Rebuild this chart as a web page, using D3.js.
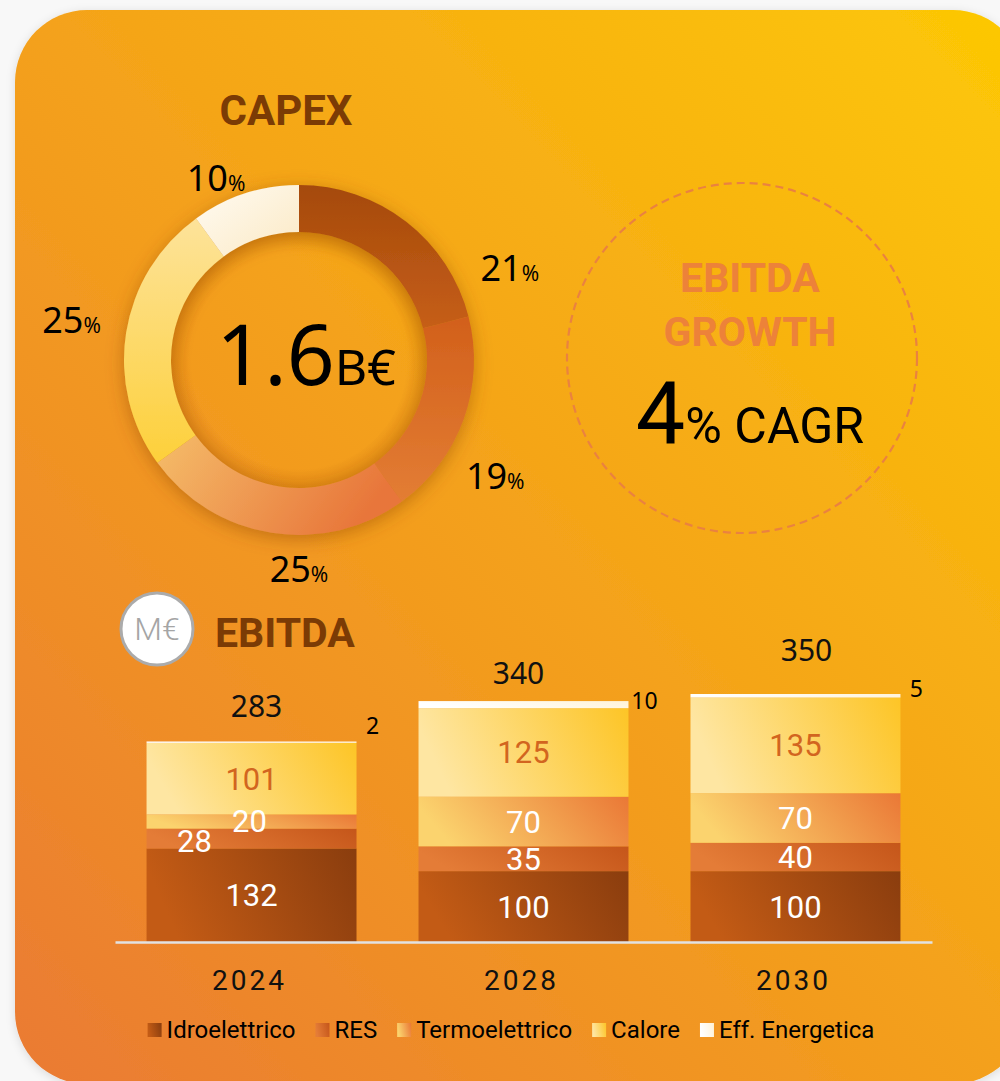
<!DOCTYPE html>
<html><head><meta charset="utf-8">
<script src="https://cdn.jsdelivr.net/npm/d3@7"></script>
<style>body{margin:0;background:#f8f8f8;} svg{display:block}</style>
</head><body>
<svg id="c" width="1000" height="1081"></svg>
<script>
// ---------- DATA ----------
const capexCategories = ["Idroelettrico", "RES", "Termoelettrico", "Calore", "Eff. Energetica"];
const capexShares = [21, 19, 25, 25, 10];
const capexTotalValue = "1.6";
const capexTotalUnit = "B€";
const years = ["2024", "2028", "2030"];
const seriesNames = ["Idroelettrico", "RES", "Termoelettrico", "Calore", "Eff. Energetica"];
const idroelettrico = [132, 100, 100];
const res = [28, 35, 40];
const termoelettrico = [20, 70, 70];
const calore = [101, 125, 135];
const effEnergetica = [2, 10, 5];
const totals = [283, 340, 350];
const cagrValue = "4";
const cagrUnit = "% CAGR";

// ---------- SETUP ----------
const svg = d3.select("#c");
const defs = svg.append("defs");

function lin(id, stops, x1, y1, x2, y2) {
  const g = defs.append("linearGradient").attr("id", id)
    .attr("x1", x1).attr("y1", y1).attr("x2", x2).attr("y2", y2);
  stops.forEach(s => g.append("stop").attr("offset", s[0]).attr("stop-color", s[1]));
}
lin("bg", [[0, "#ea7a33"], [0.5, "#f4a11b"], [1, "#fdc904"]], 0, 1, 1, 0);

// donut gradients
const donutGrads = [
  [[0, "#a54a0c"], [1, "#c65e17"]],
  [[0, "#d2601b"], [1, "#e37d34"]],
  [[0, "#f5bd6a"], [1, "#e8763a"]],
  [[0, "#fde39a"], [1, "#fdd03a"]],
  [[0, "#fffbf3"], [1, "#fbe9c4"]]
];
const donutDir = [[0,0,0,1],[0,0,0,1],[0,0,1,0.3],[0,0,0,1],[0,0,1,1]];
donutGrads.forEach((s, i) => lin("dg" + i, s, ...donutDir[i]));

// bar gradients
const barGrads = [
  [[0, "#c35b15"], [1, "#8a3d0e"]],
  [[0, "#e47c37"], [1, "#c5561a"]],
  [[0, "#fbd36e"], [1, "#ea7836"]],
  [[0, "#fee6a2"], [1, "#fdc526"]],
  [[0, "#ffffff"], [1, "#fff3d8"]]
];
barGrads.forEach((s, i) => lin("bg" + i, s, 0, 0.2, 1, 0));

const shadow = defs.append("filter").attr("id", "sh").attr("x", "-30%").attr("y", "-30%").attr("width", "160%").attr("height", "160%");
shadow.append("feDropShadow").attr("dx", 0).attr("dy", 4).attr("stdDeviation", 9)
  .attr("flood-color", "#8a4300").attr("flood-opacity", 0.45);
const cardSh = defs.append("filter").attr("id", "csh").attr("x", "-5%").attr("y", "-5%").attr("width", "110%").attr("height", "110%");
cardSh.append("feDropShadow").attr("dx", 0).attr("dy", 2).attr("stdDeviation", 5)
  .attr("flood-color", "#000").attr("flood-opacity", 0.12);

// card
svg.append("rect").attr("x", 15).attr("y", 10).attr("width", 1010).attr("height", 1074)
  .attr("rx", 72).attr("fill", "url(#bg)").attr("filter", "url(#csh)");

const sansNum = "'Noto Sans', 'Open Sans', sans-serif";
const rob = "Roboto, sans-serif";

// ---------- CAPEX DONUT ----------
svg.append("text").attr("x", 286).attr("y", 125).attr("text-anchor", "middle")
  .attr("font-family", rob).attr("font-weight", 700).attr("font-size", 42)
  .attr("fill", "#7b3b05").text("CAPEX");

const cx = 299, cy = 360;
const pie = d3.pie().sort(null).value(d => d);
const arcs = pie(capexShares);
const arc = d3.arc().innerRadius(128).outerRadius(175);
const dg = svg.append("g").attr("transform", `translate(${cx},${cy})`);
const ring = dg.append("g").attr("filter", "url(#sh)");
ring.selectAll("path").data(arcs).join("path")
  .attr("d", arc).attr("fill", (d, i) => `url(#dg${i})`);

// inner soft shade
const innerG = defs.append("radialGradient").attr("id", "inner");
innerG.append("stop").attr("offset", 0.85).attr("stop-color", "#b05a00").attr("stop-opacity", 0);
innerG.append("stop").attr("offset", 1).attr("stop-color", "#b05a00").attr("stop-opacity", 0.25);
dg.append("circle").attr("r", 128).attr("fill", "url(#inner)");

const labelShiftDeg = [28.6, 10.8, -9, 1, -6.5];
const labelRadius = [230, 228, 209, 231, 200];
arcs.forEach((a, i) => {
  const ang = (a.startAngle + a.endAngle) / 2 + labelShiftDeg[i] * Math.PI / 180;
  const lx = labelRadius[i] * Math.sin(ang), ly = -labelRadius[i] * Math.cos(ang);
  const t = dg.append("text").attr("x", lx).attr("y", ly + 13).attr("text-anchor", "middle")
    .attr("font-family", sansNum).attr("fill", "#000");
  t.append("tspan").attr("font-size", 36).text(a.data);
  t.append("tspan").attr("font-size", 21).text("%");
});

const ct = dg.append("text").attr("x", 7).attr("y", 25).attr("text-anchor", "middle")
  .attr("font-family", sansNum).attr("fill", "#000");
ct.append("tspan").attr("font-size", 84).text(capexTotalValue);
ct.append("tspan").attr("font-size", 50).text(capexTotalUnit);

// ---------- EBITDA GROWTH circle ----------
svg.append("circle").attr("cx", 742).attr("cy", 358).attr("r", 175)
  .attr("fill", "none").attr("stroke", "#ea8240").attr("stroke-width", 2.2)
  .attr("stroke-dasharray", "8,5");
[["EBITDA", 292], ["GROWTH", 346]].forEach(([s, y]) => {
  svg.append("text").attr("x", 750).attr("y", y).attr("text-anchor", "middle")
    .attr("font-family", rob).attr("font-weight", 700).attr("font-size", 41)
    .attr("fill", "#ed8239").text(s);
});
const cg = svg.append("text").attr("x", 750).attr("y", 443).attr("text-anchor", "middle")
  .attr("font-family", rob).attr("fill", "#000");
cg.append("tspan").attr("font-size", 88).text(cagrValue);
cg.append("tspan").attr("font-size", 50).text(cagrUnit);

// ---------- EBITDA BARS ----------
svg.append("circle").attr("cx", 157).attr("cy", 629).attr("r", 36)
  .attr("fill", "#fff").attr("stroke", "#ababab").attr("stroke-width", 3);
svg.append("text").attr("x", 157).attr("y", 640).attr("text-anchor", "middle")
  .attr("font-family", rob).attr("font-weight", 300).attr("font-size", 32)
  .attr("fill", "#a5a5a5").text("M€");
svg.append("text").attr("x", 215).attr("y", 647)
  .attr("font-family", rob).attr("font-weight", 700).attr("font-size", 41)
  .attr("fill", "#7b3b05").text("EBITDA");

const table = years.map((y, i) => ({
  year: y,
  "Idroelettrico": idroelettrico[i], "RES": res[i], "Termoelettrico": termoelettrico[i],
  "Calore": calore[i], "Eff. Energetica": effEnergetica[i], total: totals[i]
}));
const x = d3.scaleBand().domain(years).range([115, 932]).paddingInner(0.228).paddingOuter(0.116);
const y = d3.scaleLinear().domain([0, 350]).range([942, 694]);
const stack = d3.stack().keys(seriesNames)(table);

const bars = svg.append("g");
stack.forEach((layer, si) => {
  bars.selectAll(null).data(layer).join("rect")
    .attr("x", d => x(d.data.year)).attr("width", x.bandwidth())
    .attr("y", d => y(d[1])).attr("height", d => y(d[0]) - y(d[1]))
    .attr("fill", `url(#bg${si})`);
});

// segment labels (first four series)
const labelColors = ["#fff", "#fff", "#fff", "#d2651f"];
const labelDx = [[0, 0, 0], [-57, 0, 0], [-2, 0, 0], [0, 0, 0]];
const labelDy = [[0, 0, 0], [2, 0, 0], [-1, 0, 0], [0, 0, 0]];
stack.slice(0, 4).forEach((layer, si) => {
  layer.forEach((d, j) => {
    svg.append("text")
      .attr("x", x(d.data.year) + x.bandwidth() / 2 + labelDx[si][j])
      .attr("y", (y(d[0]) + y(d[1])) / 2 + 11 + labelDy[si][j])
      .attr("text-anchor", "middle").attr("font-family", rob).attr("font-size", 31)
      .attr("fill", labelColors[si]).text(d[1] - d[0]);
  });
});
// Eff. Energetica labels beside bars
stack[4].forEach((d, j) => {
  svg.append("text")
    .attr("x", x(d.data.year) + x.bandwidth() + 16)
    .attr("y", y(d[1]) + [ -7, 8, 3 ][j])
    .attr("text-anchor", "middle").attr("font-family", sansNum).attr("font-size", 23)
    .attr("fill", "#000").text(d[1] - d[0]);
});
// totals
const totDx = [5, -5, 11], totDy = [-24, -17, -33];
table.forEach((d, j) => {
  svg.append("text")
    .attr("x", x(d.year) + x.bandwidth() / 2 + totDx[j])
    .attr("y", y(d.total) + totDy[j])
    .attr("text-anchor", "middle").attr("font-family", sansNum).attr("font-size", 30)
    .attr("fill", "#111").text(d.total);
});

// axis
const ax = svg.append("g").attr("transform", "translate(0,942)")
  .call(d3.axisBottom(x).tickSize(0).tickPadding(0));
ax.select(".domain").attr("stroke", "#e2e2e2").attr("stroke-width", 2.5);
ax.selectAll("text").attr("y", 48).attr("dy", 0).attr("dx", -2)
  .attr("font-family", rob).attr("font-size", 28).attr("letter-spacing", 3)
  .attr("fill", "#111");

// legend
const lg = svg.append("g");
let lx = 0;
const gapItem = 20;
seriesNames.forEach((n, i) => {
  const g = lg.append("g");
  g.append("rect").attr("x", 0).attr("y", -15).attr("width", 14).attr("height", 14)
    .attr("fill", `url(#bg${i})`);
  const t = g.append("text").attr("x", 19).attr("y", 0).attr("font-family", rob)
    .attr("font-size", 24).attr("fill", "#000").text(n);
  const w = 19 + t.node().getComputedTextLength();
  g.attr("transform", `translate(${lx},0)`);
  lx += w + gapItem;
});
lx -= gapItem;
lg.attr("transform", `translate(${511 - lx / 2},1038)`);
</script>
</body></html>
